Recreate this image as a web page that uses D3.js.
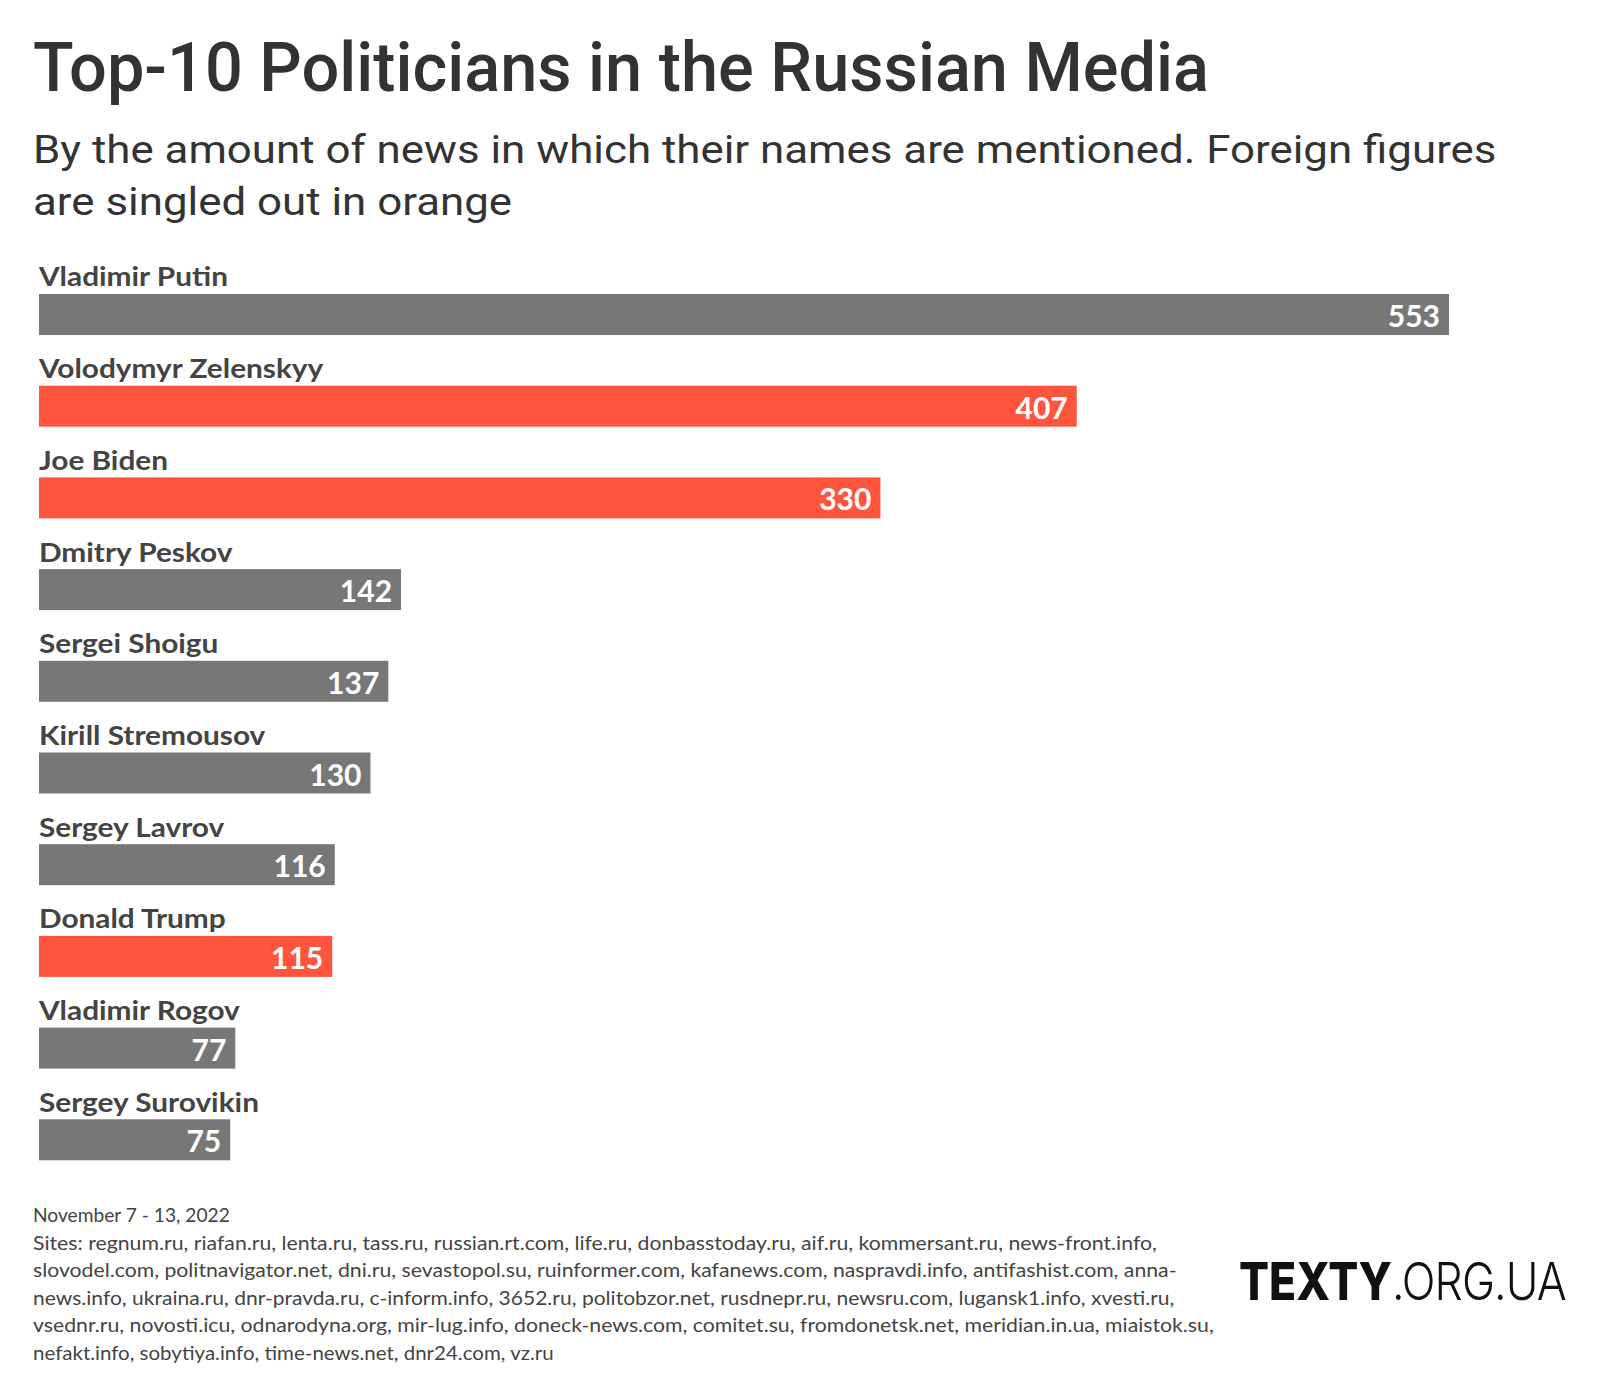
<!DOCTYPE html>
<html>
<head>
<meta charset="utf-8">
<script src="https://cdn.jsdelivr.net/npm/d3@7"></script>
<style>
  html, body { margin: 0; padding: 0; background: #fff; }
  svg { display: block; }
</style>
</head>
<body>
<svg id="chart" width="1600" height="1400"></svg>
<script>
const names = ["Vladimir Putin", "Volodymyr Zelenskyy", "Joe Biden", "Dmitry Peskov", "Sergei Shoigu",
  "Kirill Stremousov", "Sergey Lavrov", "Donald Trump", "Vladimir Rogov", "Sergey Surovikin"];
const values = [553, 407, 330, 142, 137, 130, 116, 115, 77, 75];
const foreign = [false, true, true, false, false, false, false, true, false, false];

const titleText = "Top-10 Politicians in the Russian Media";
const subtitleLines = ["By the amount of news in which their names are mentioned. Foreign figures",
  "are singled out in orange"];
const footerLines = [
  "November 7 - 13, 2022",
  "Sites: regnum.ru, riafan.ru, lenta.ru, tass.ru, russian.rt.com, life.ru, donbasstoday.ru, aif.ru, kommersant.ru, news-front.info,",
  "slovodel.com, politnavigator.net, dni.ru, sevastopol.su, ruinformer.com, kafanews.com, naspravdi.info, antifashist.com, anna-",
  "news.info, ukraina.ru, dnr-pravda.ru, c-inform.info, 3652.ru, politobzor.net, rusdnepr.ru, newsru.com, lugansk1.info, xvesti.ru,",
  "vsednr.ru, novosti.icu, odnarodyna.org, mir-lug.info, doneck-news.com, comitet.su, fromdonetsk.net, meridian.in.ua, miaistok.su,",
  "nefakt.info, sobytiya.info, time-news.net, dnr24.com, vz.ru"
];
const footerWidths = [197, 1125, 1144, 1142, 1182, 521];

const GRAY = "#777777", ORANGE = "#ff553f";

const svg = d3.select("#chart");

// fit text horizontally to a target width by scaling around its x anchor
function fitWidth(sel, x, target) {
  const w = sel.node().getComputedTextLength();
  const s = target / w;
  sel.attr("transform", `translate(${x},0) scale(${s},1) translate(${-x},0)`);
  return s;
}

// Title
const title = svg.append("text")
  .attr("x", 33).attr("y", 91)
  .attr("font-family", "Roboto").attr("font-weight", 500)
  .attr("font-size", 68).attr("fill", "#333")
  .text(titleText);
fitWidth(title, 33, 1176);

// Subtitle
const sub1 = svg.append("text")
  .attr("x", 33).attr("y", 163)
  .attr("font-family", "Roboto").attr("font-weight", 400)
  .attr("font-size", 39).attr("fill", "#333")
  .text(subtitleLines[0]);
const s = fitWidth(sub1, 33, 1464);
svg.append("text")
  .attr("x", 33).attr("y", 215)
  .attr("font-family", "Roboto").attr("font-weight", 400)
  .attr("font-size", 39).attr("fill", "#333")
  .attr("transform", `translate(33,0) scale(${s},1) translate(-33,0)`)
  .text(subtitleLines[1]);

// Scales
const x = d3.scaleLinear().domain([0, 553]).range([39, 1449]);
const y = d3.scaleBand().domain(names).range([294, 294 + 9 * 91.7 + 41])
  .paddingInner(1 - 41 / 91.7).paddingOuter(0);

const data = names.map((n, i) => ({ name: n, value: values[i], foreign: foreign[i] }));

const g = svg.append("g");

g.selectAll("rect.bar").data(data).join("rect")
  .attr("class", "bar")
  .attr("x", x(0))
  .attr("y", d => y(d.name))
  .attr("width", d => x(d.value) - x(0))
  .attr("height", y.bandwidth())
  .attr("fill", d => d.foreign ? ORANGE : GRAY);

// name labels
const nameLabels = g.selectAll("text.name").data(data).join("text")
  .attr("class", "name")
  .attr("x", x(0))
  .attr("y", d => y(d.name) - 7.5)
  .attr("font-family", "Lato").attr("font-weight", 700)
  .attr("font-size", 27.5).attr("fill", "#444")
  .text(d => d.name);
// horizontal scale derived from first label width
const nw = nameLabels.nodes()[0].getComputedTextLength();
const ns = 189 / nw;
nameLabels.attr("transform", `translate(${x(0)},0) scale(${ns},1) translate(${-x(0)},0)`);

// value labels
g.selectAll("text.val").data(data).join("text")
  .attr("class", "val")
  .attr("x", d => x(d.value) - 9)
  .attr("y", d => y(d.name) + 33)
  .attr("text-anchor", "end")
  .attr("font-family", "Lato").attr("font-weight", 700)
  .attr("font-size", 30).attr("fill", "#fff")
  .text(d => d.value);

// Footer
svg.append("g").selectAll("text").data(footerLines).join("text")
  .attr("x", 33)
  .attr("y", (d, i) => 1222 + i * 27.6)
  .attr("font-family", "Lato").attr("font-weight", 400)
  .attr("font-size", 19.5).attr("fill", "#444")
  .text(d => d)
  .each(function(d, i) { fitWidth(d3.select(this), 33, footerWidths[i]); });

// Logo
const logo = svg.append("text")
  .attr("x", 1239).attr("y", 1300)
  .attr("font-family", "Inter").attr("font-size", 52).attr("fill", "#111");
logo.append("tspan").attr("font-weight", 800).text("TEXTY");
logo.append("tspan").attr("font-weight", 300).attr("letter-spacing", -1).text(".ORG.UA");
fitWidth(logo, 1239, 327);
</script>
</body>
</html>
